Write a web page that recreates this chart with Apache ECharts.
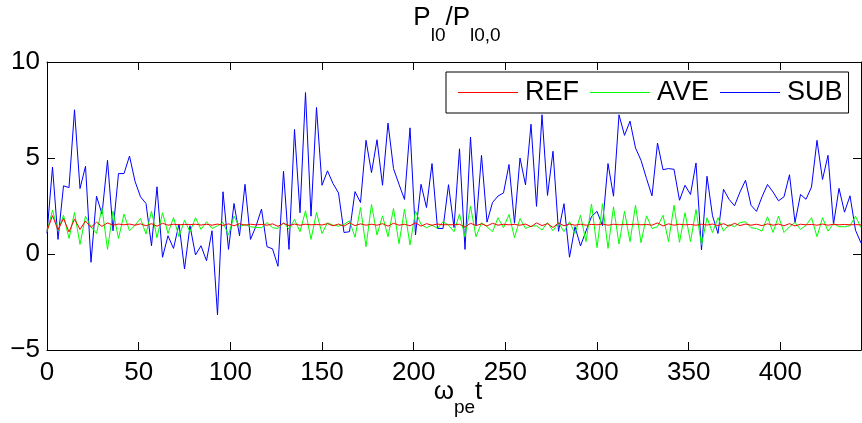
<!DOCTYPE html>
<html>
<head>
<meta charset="utf-8">
<script src="https://cdn.jsdelivr.net/npm/echarts@6/dist/echarts.min.js"></script>
<style>html,body{margin:0;padding:0;background:#fff}#c{width:862px;height:423px}</style>
</head>
<body>
<div id="c"></div>
<script>
const time = [0,3,6,9,12,15,18,21,24,27,30,33,36,39,42,45,48,51,54,57,60,63,66,69,72,75,78,81,84,87,90,93,96,99,102,105,108,111,114,117,120,123,126,129,132,135,138,141,144,147,150,153,156,159,162,165,168,171,174,177,180,183,186,189,192,195,198,201,204,207,210,213,216,219,222,225,228,231,234,237,240,243,246,249,252,255,258,261,264,267,270,273,276,279,282,285,288,291,294,297,300,303,306,309,312,315,318,321,324,327,330,333,336,339,342,345,348,351,354,357,360,363,366,369,372,375,378,381,384,387,390,393,396,399,402,405,408,411,414,417,420,423,426,429,432,435,438,441,444];

const refVals = [1.20,2.00,1.25,1.85,1.15,1.82,1.28,1.72,1.38,1.66,
1.44,1.62,1.50,1.56,1.52,1.56,1.50,1.57,1.47,1.58,
1.45,1.60,1.50,1.55,1.52,1.54,1.53,1.55,1.51,1.55,
1.50,1.56,1.49,1.57,1.47,1.58,1.50,1.55,1.52,1.54,
1.50,1.57,1.44,1.60,1.48,1.56,1.50,1.55,1.52,1.54,
1.51,1.58,1.47,1.56,1.45,1.62,1.48,1.57,1.50,1.55,
1.50,1.58,1.45,1.60,1.50,1.55,1.47,1.62,1.45,1.58,
1.50,1.56,1.52,1.53,1.52,1.55,1.40,1.60,1.48,1.57,
1.46,1.60,1.50,1.55,1.52,1.54,1.50,1.56,1.42,1.62,
1.48,1.58,1.38,1.62,1.47,1.56,1.50,1.55,1.50,1.54,
1.52,1.56,1.50,1.55,1.52,1.54,1.53,1.55,1.52,1.54,
1.50,1.62,1.46,1.57,1.50,1.55,1.52,1.54,1.50,1.55,
1.51,1.56,1.48,1.58,1.45,1.60,1.48,1.56,1.50,1.55,
1.48,1.57,1.50,1.56,1.47,1.58,1.46,1.55,1.52,1.54,
1.50,1.56,1.50,1.55,1.52,1.54,1.52,1.53,1.52];

const aveVals = [1.16,2.28,1.21,2.02,0.81,2.16,0.50,1.97,1.42,1.07,
2.40,0.24,2.23,0.81,2.08,1.21,1.50,1.85,1.04,2.23,
0.85,2.15,1.07,1.90,0.90,1.76,1.16,1.89,1.28,1.68,
1.33,1.47,1.64,0.99,1.97,1.42,1.54,1.42,1.38,1.37,
1.64,1.37,1.33,1.63,1.30,1.80,1.16,2.25,0.76,2.16,
1.07,1.63,1.50,1.45,1.54,1.73,0.87,2.42,0.38,2.58,
0.99,1.99,0.90,2.37,0.54,2.34,0.47,2.23,1.54,1.37,
1.50,1.33,1.68,1.50,1.16,2.08,0.90,2.49,0.90,1.63,
1.42,1.16,1.89,1.37,2.06,0.85,1.85,1.33,1.45,1.47,
1.25,1.64,1.21,1.64,1.16,1.68,1.07,2.02,0.64,2.60,
0.33,2.62,0.29,2.46,0.52,2.23,0.64,2.54,0.59,1.99,
1.33,1.42,2.02,0.64,2.54,0.61,2.15,0.64,2.32,0.47,
1.89,1.12,1.89,1.19,1.54,1.42,1.64,1.68,1.37,1.33,
1.19,1.94,1.12,1.97,1.12,1.42,1.64,1.28,1.50,1.89,
0.90,1.89,1.19,1.59,1.42,1.42,1.47,1.97,1.37];

const subVals = [1.07,4.53,0.76,3.55,3.46,7.51,3.41,4.57,-0.43,3.01,
2.08,4.88,1.21,4.19,4.19,5.10,3.79,2.98,2.63,0.43,
3.50,-0.17,0.95,0.29,1.56,-0.78,1.47,-0.05,0.43,-0.35,
1.21,-3.17,3.24,0.24,2.63,0.95,3.63,0.76,1.45,2.34,
0.38,0.27,-0.64,4.31,0.24,6.49,2.15,8.41,1.97,7.63,
3.58,4.33,3.67,3.18,1.12,1.16,3.25,2.68,5.92,4.24,
5.95,3.58,6.82,4.45,3.63,2.84,6.57,0.99,3.63,2.42,
4.71,1.33,1.33,3.61,1.38,5.48,0.24,6.09,1.51,5.14,
1.66,2.68,3.02,3.18,4.66,1.60,5.00,3.60,6.76,2.48,
7.25,3.05,5.35,1.18,2.62,-0.17,1.42,0.42,1.20,1.95,
2.22,1.48,4.71,3.01,7.25,6.18,6.92,5.52,4.88,3.93,
3.03,5.78,4.39,4.45,4.41,2.80,3.58,3.10,4.74,0.21,
4.05,1.99,1.07,3.37,2.85,2.51,3.23,3.84,2.54,2.22,
2.98,3.62,3.23,2.77,2.98,4.13,1.64,3.10,2.85,3.49,
5.92,3.88,5.14,1.54,3.42,2.18,3.03,1.24,0.57];

const seriesNames = ['REF', 'AVE', 'SUB'];
const xTicks = [0, 50, 100, 150, 200, 250, 300, 350, 400];
const yTicks = [-5, 0, 5, 10];

const FONT = 'Liberation Sans, Arial, Helvetica, sans-serif';
const pair = arr => time.map((t, i) => [t, arr[i]]);

const chart = echarts.init(document.getElementById('c'), null, {renderer: 'canvas'});

const axisCommon = {
  type: 'value',
  axisLine: {show: true, onZero: false, lineStyle: {color: '#000', width: 1}},
  axisTick: {show: true, inside: true, length: 8, lineStyle: {color: '#000', width: 1}},
  splitLine: {show: false}
};

chart.setOption({
  animation: false,
  backgroundColor: '#fff',
  grid: {left: 47, top: 62, width: 814, height: 288, containLabel: false},
  xAxis: [
    Object.assign({}, axisCommon, {
      position: 'bottom', min: 0, max: 444, interval: 50,
      axisLabel: {show: true, fontSize: 26, fontFamily: FONT, color: '#000', margin: 10, showMaxLabel: false,
        formatter: v => xTicks.indexOf(v) >= 0 ? String(v) : ''}
    }),
    Object.assign({}, axisCommon, {
      position: 'top', min: 0, max: 444, interval: 50, axisLabel: {show: false}
    })
  ],
  yAxis: [
    Object.assign({}, axisCommon, {
      position: 'left', min: -5, max: 10, interval: 5,
      axisLabel: {show: true, fontSize: 26, fontFamily: FONT, color: '#000', margin: 7,
        formatter: v => yTicks.indexOf(v) >= 0 ? (v < 0 ? '\u2212' + Math.abs(v) : String(v)) : ''}
    }),
    Object.assign({}, axisCommon, {
      position: 'right', min: -5, max: 10, interval: 5, axisLabel: {show: false}
    })
  ],
  legend: {
    show: true,
    left: 446, top: 72,
    orient: 'horizontal',
    data: seriesNames,
    icon: 'rect',
    backgroundColor: '#fff',
    borderColor: '#000', borderWidth: 1,
    borderRadius: 0,
    padding: [7, 6, 7, 12],
    itemGap: 11,
    itemWidth: 60, itemHeight: 1,
    textStyle: {fontSize: 27, fontFamily: FONT, color: '#000', padding: [0, 0, 0, 2]},
    z: 10
  },
  graphic: [
    {
      type: 'text', x: 457, y: 5, z: 10,
      style: {
        text: '{a|P}{s|l0}{a|/P}{s|l0,0}',
        textAlign: 'center',
        fill: '#000',
        rich: {
          a: {fontSize: 26, fontFamily: FONT, lineHeight: 40, verticalAlign: 'top', fill: '#000'},
          s: {fontSize: 19, fontFamily: FONT, lineHeight: 40, verticalAlign: 'bottom', fill: '#000'}
        }
      }
    },
    {
      type: 'text', x: 458, y: 379, z: 10,
      style: {
        text: '{a|\u03c9}{s|pe}{a|t}',
        textAlign: 'center',
        fill: '#000',
        rich: {
          a: {fontSize: 26, fontFamily: FONT, lineHeight: 38, verticalAlign: 'top', fill: '#000'},
          s: {fontSize: 19, fontFamily: FONT, lineHeight: 38, verticalAlign: 'bottom', fill: '#000'}
        }
      }
    }
  ],
  series: [
    {name: 'REF', type: 'line', data: pair(refVals), symbol: 'none', showSymbol: false,
      lineStyle: {color: '#ff0000', width: 1}, itemStyle: {color: '#ff0000'}, z: 3},
    {name: 'AVE', type: 'line', data: pair(aveVals), symbol: 'none', showSymbol: false,
      lineStyle: {color: '#00ff00', width: 1}, itemStyle: {color: '#00ff00'}, z: 2},
    {name: 'SUB', type: 'line', data: pair(subVals), symbol: 'none', showSymbol: false,
      lineStyle: {color: '#0000ff', width: 1}, itemStyle: {color: '#0000ff'}, z: 1}
  ]
});
</script>
</body>
</html>
